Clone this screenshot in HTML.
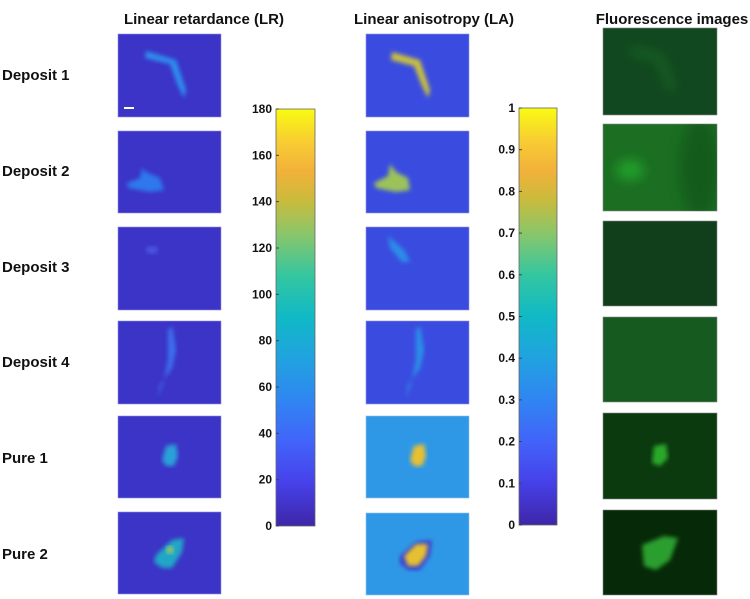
<!DOCTYPE html>
<html><head><meta charset="utf-8"><style>
body{margin:0;background:#fff;width:750px;height:599px;overflow:hidden;font-family:"Liberation Sans",sans-serif}
svg{display:block}
text{font-family:"Liberation Sans",sans-serif;font-weight:bold;fill:#111}
</style></head><body>
<svg width="750" height="599">
<defs>
<linearGradient id="parula" x1="0" y1="1" x2="0" y2="0">
<stop offset="0" stop-color="#3e26a8"/><stop offset="0.1" stop-color="#4640e8"/><stop offset="0.2" stop-color="#4263fa"/>
<stop offset="0.3" stop-color="#3085f2"/><stop offset="0.4" stop-color="#21a2e0"/><stop offset="0.5" stop-color="#10b9c6"/>
<stop offset="0.6" stop-color="#34c6a0"/><stop offset="0.7" stop-color="#8ac66a"/><stop offset="0.78" stop-color="#c9bb3c"/>
<stop offset="0.85" stop-color="#f2b13a"/><stop offset="0.92" stop-color="#f8cc33"/><stop offset="1" stop-color="#f9fb12"/>
</linearGradient>
<filter id="b2"><feGaussianBlur stdDeviation="2"/></filter>
<filter id="b6" x="-50%" y="-50%" width="200%" height="200%"><feGaussianBlur stdDeviation="6"/></filter>
<clipPath id="fl2clip"><rect x="603" y="124" width="114" height="87"/></clipPath>
</defs>

<text x="204" y="24" font-size="15" text-anchor="middle">Linear retardance (LR)</text>
<text x="434" y="24" font-size="15" text-anchor="middle">Linear anisotropy (LA)</text>
<text x="672" y="24" font-size="15" text-anchor="middle">Fluorescence images</text>

<g font-size="15">
<text x="2" y="80">Deposit 1</text>
<text x="2" y="176">Deposit 2</text>
<text x="2" y="272">Deposit 3</text>
<text x="2" y="367">Deposit 4</text>
<text x="2" y="463">Pure 1</text>
<text x="2" y="559">Pure 2</text>
</g>

<g>
<g><rect x="118" y="34" width="103" height="83" fill="#3b34c6" stroke="#8f8ff0" stroke-width="0.6"/>
<path d="M146 51 L176 60 L186 90 L184 98 L178 86 L170 64 L145 58Z" fill="#2e8ff0" filter="url(#b2)"/>
<rect x="124" y="107" width="10" height="2" fill="#fff"/></g>
<g><rect x="118" y="131" width="103" height="82" fill="#3b34c6" stroke="#8f8ff0" stroke-width="0.6"/>
<path d="M127 183 L140 178 L142 168 L146 172 L160 178 L164 190 L150 192 L128 188Z" fill="#2d78ec" filter="url(#b2)"/></g>
<g><rect x="118" y="227" width="103" height="83" fill="#3b34c6" stroke="#8f8ff0" stroke-width="0.6"/>
<ellipse cx="152" cy="250" rx="6" ry="4" fill="#4a55e0" filter="url(#b2)"/></g>
<g><rect x="118" y="321" width="103" height="83" fill="#3b34c6" stroke="#8f8ff0" stroke-width="0.6"/>
<path d="M172 326 L176 350 L172 368 L160 385 L158 398 L164 380 L168 360 L168 330Z" fill="#3d70ee" filter="url(#b2)"/></g>
<g><rect x="118" y="416" width="103" height="82" fill="#3b34c6" stroke="#8f8ff0" stroke-width="0.6"/>
<path d="M166 446 L176 444 L178 456 L174 466 L166 466 L162 460Z" fill="#2aa0d8" filter="url(#b2)"/></g>
<g><rect x="118" y="512" width="103" height="82" fill="#3b34c6" stroke="#8f8ff0" stroke-width="0.6"/>
<path d="M156 555 L172 540 L184 538 L182 552 L172 568 L162 568 L154 562Z" fill="#22a6c8" filter="url(#b2)"/>
<circle cx="170" cy="550" r="4" fill="#8ac66a" filter="url(#b2)"/></g>
</g>

<g>
<g><rect x="366" y="34" width="103" height="83" fill="#3a4ce0" stroke="#8f8ff0" stroke-width="0.6"/>
<path d="M392 52 L420 60 L430 90 L428 98 L422 86 L414 66 L391 60Z" fill="#c8c040" filter="url(#b2)"/></g>
<g><rect x="366" y="131" width="103" height="82" fill="#3a4ce0" stroke="#8f8ff0" stroke-width="0.6"/>
<path d="M374 183 L388 176 L390 164 L396 172 L408 178 L410 190 L396 192 L376 188Z" fill="#9cc25a" filter="url(#b2)"/></g>
<g><rect x="366" y="227" width="103" height="83" fill="#3a4ce0" stroke="#8f8ff0" stroke-width="0.6"/>
<path d="M388 236 L404 250 L410 262 L402 262 L390 248Z" fill="#2a8ee8" filter="url(#b2)"/></g>
<g><rect x="366" y="321" width="103" height="83" fill="#3a4ce0" stroke="#8f8ff0" stroke-width="0.6"/>
<path d="M420 326 L424 350 L420 368 L408 385 L406 398 L412 380 L416 360 L416 330Z" fill="#2a90e8" filter="url(#b2)"/></g>
<g><rect x="366" y="416" width="103" height="82" fill="#2f98e6" stroke="#8fc0f0" stroke-width="0.6"/>
<path d="M414 446 L424 444 L426 456 L422 466 L414 466 L410 460Z" fill="#e8c030" filter="url(#b2)"/></g>
<g><rect x="366" y="513" width="103" height="82" fill="#2f98e6" stroke="#8fc0f0" stroke-width="0.6"/>
<path d="M400 556 L416 542 L432 540 L430 556 L420 570 L408 570 L400 564Z" fill="#3a40d0" filter="url(#b2)"/>
<path d="M404 556 L416 544 L428 544 L426 556 L418 566 L408 566Z" fill="#e6c030" filter="url(#b2)"/></g>
</g>

<g>
<g><rect x="603" y="28" width="114" height="87" fill="#12481f" stroke="#888" stroke-width="0.6"/>
<path d="M630 50 L660 58 L672 90" stroke="#1a7a2a" stroke-width="6" fill="none" opacity="0.7" filter="url(#b6)"/></g>
<g><rect x="603" y="124" width="114" height="87" fill="#1b6e22" stroke="#888" stroke-width="0.6"/>
<g clip-path="url(#fl2clip)"><ellipse cx="630" cy="170" rx="14" ry="10" fill="#22a02a" filter="url(#b6)"/>
<ellipse cx="700" cy="168" rx="20" ry="50" fill="#0f4a18" opacity="0.5" filter="url(#b6)"/></g></g>
<g><rect x="603" y="221" width="114" height="85" fill="#113f1c" stroke="#888" stroke-width="0.6"/></g>
<g><rect x="603" y="317" width="114" height="85" fill="#175a1f" stroke="#888" stroke-width="0.6"/></g>
<g><rect x="603" y="413" width="114" height="86" fill="#0b3a0f" stroke="#888" stroke-width="0.6"/>
<path d="M654 446 L666 444 L668 458 L660 466 L652 463Z" fill="#2aa82c" filter="url(#b2)"/></g>
<g><rect x="603" y="510" width="114" height="85" fill="#062a08" stroke="#888" stroke-width="0.6"/>
<path d="M642 545 L664 536 L678 538 L670 560 L656 570 L644 566Z" fill="#2a9e2e" filter="url(#b2)"/></g>
</g>

<g id="cb1"></g>
<g id="cb2"></g>
</svg>
<script>
const lrTicks = [0, 20, 40, 60, 80, 100, 120, 140, 160, 180];
const lrTickLabels = ['0','20','40','60','80','100','120','140','160','180'];
const laTicks = [0, 0.1, 0.2, 0.3, 0.4, 0.5, 0.6, 0.7, 0.8, 0.9, 1];
const laTickLabels = ['0','0.1','0.2','0.3','0.4','0.5','0.6','0.7','0.8','0.9','1'];
const NS = 'http://www.w3.org/2000/svg';
function drawBar(g, x, y0, y1, w, ticks, labels, max) {
  const scale = v => y1 - (v / max) * (y1 - y0);
  const r = document.createElementNS(NS, 'rect');
  r.setAttribute('x', x); r.setAttribute('y', y0); r.setAttribute('width', w); r.setAttribute('height', y1 - y0);
  r.setAttribute('fill', 'url(#parula)'); r.setAttribute('stroke', '#666'); r.setAttribute('stroke-width', '0.8');
  
  
  g.appendChild(r);
  ticks.forEach((v, i) => {
    const yy = scale(v);
    const t = document.createElementNS(NS, 'line');
    t.setAttribute('x1', x); t.setAttribute('x2', x + 3); t.setAttribute('y1', yy); t.setAttribute('y2', yy);
    t.setAttribute('stroke', '#444');
    
    
    g.appendChild(t);
    const tx = document.createElementNS(NS, 'text');
    tx.setAttribute('x', x - 4); tx.setAttribute('y', yy + 4); tx.setAttribute('text-anchor', 'end');
    tx.setAttribute('font-size', '12');
    tx.textContent = labels[i];
    
    
    g.appendChild(tx);
  });
}
drawBar(document.getElementById('cb1'), 276, 109, 526, 39, lrTicks, lrTickLabels, 180);
drawBar(document.getElementById('cb2'), 519, 108, 525, 38, laTicks, laTickLabels, 1);
</script>
</body></html>
